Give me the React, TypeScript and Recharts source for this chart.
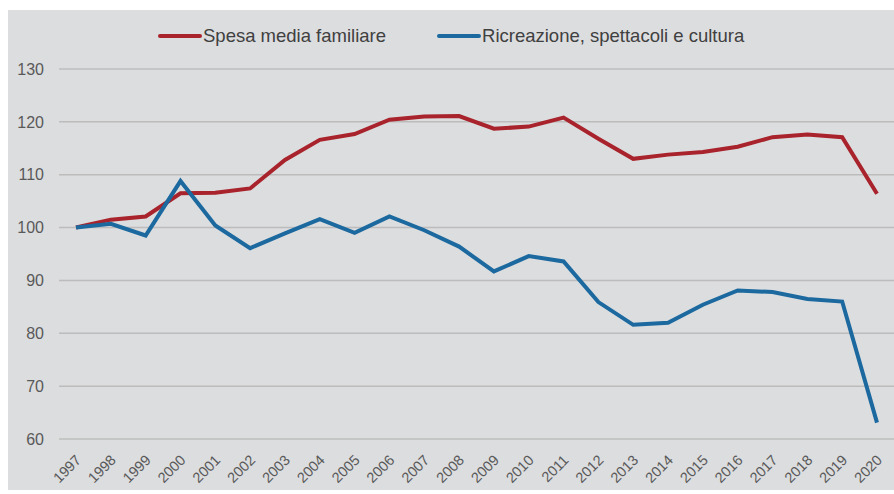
import React from "react";
import { LineChart, Line, XAxis, YAxis, CartesianGrid, Legend } from "recharts";

const years = [
  "1997", "1998", "1999", "2000", "2001", "2002", "2003", "2004", "2005", "2006", "2007", "2008",
  "2009", "2010", "2011", "2012", "2013", "2014", "2015", "2016", "2017", "2018", "2019", "2020",
];

// indice 1997 = 100
const spesaMedia = [
  100, 101.5, 102.1, 106.5, 106.6, 107.4, 112.8, 116.6, 117.7, 120.4, 121.0, 121.1,
  118.7, 119.1, 120.8, 116.8, 113.0, 113.8, 114.3, 115.3, 117.1, 117.6, 117.1, 106.4,
];

const ricreazione = [
  100, 100.7, 98.5, 108.8, 100.4, 96.1, 98.9, 101.6, 99.0, 102.1, 99.5, 96.4,
  91.7, 94.6, 93.6, 85.9, 81.6, 82.0, 85.4, 88.1, 87.8, 86.5, 86.0, 63.1,
];

const yTicks = [60, 70, 80, 90, 100, 110, 120, 130];

const SERIES = [
  { key: "spesa", label: "Spesa media familiare", color: "#a8232b" },
  { key: "ricreazione", label: "Ricreazione, spettacoli e cultura", color: "#1c69a0" },
];

const FONT = "'Liberation Sans', Arial, sans-serif";

const chartData = years.map((year, i) => ({
  year,
  spesa: spesaMedia[i],
  ricreazione: ricreazione[i],
}));

const YearTick = (props: any) => {
  const { x, y, payload } = props;
  const tx = x + 6;
  const ty = y + 14;
  return (
    <text
      x={tx}
      y={ty}
      transform={`rotate(-45 ${tx} ${ty})`}
      textAnchor="end"
      fill="#595959"
      fontSize={14.5}
      fontFamily={FONT}
    >
      {payload.value}
    </text>
  );
};

const LegendContent = () => (
  <div style={{ display: "flex", paddingLeft: 158, fontFamily: FONT }}>
    {SERIES.map((s, i) => (
      <div key={s.key} style={{ display: "flex", alignItems: "center", marginRight: i === 0 ? 51 : 0 }}>
        <span style={{ width: 44, height: 4, background: s.color, borderRadius: 2, display: "inline-block" }} />
        <span style={{ fontSize: 18.5, color: "#404040", marginLeft: 1 }}>{s.label}</span>
      </div>
    ))}
  </div>
);

export default function App() {
  return (
    <div style={{ position: "absolute", left: 0, top: 0, width: 894, height: 494, background: "#fff" }}>
      <div style={{ position: "absolute", left: 8, top: 10, width: 886, height: 480, background: "#dcdddf" }} />
      <div style={{ position: "absolute", left: 0, top: 0 }}>
        <LineChart
          width={894}
          height={494}
          data={chartData}
          margin={{ top: 47, right: 0, left: 0, bottom: 0 }}
        >
          <CartesianGrid vertical={false} stroke="#bcbcbc" strokeWidth={1.5} />
          <XAxis
            dataKey="year"
            axisLine={false}
            tickLine={false}
            height={55}
            interval={0}
            padding={{ left: 17, right: 17 }}
            tick={<YearTick />}
          />
          <YAxis
            domain={[60, 130]}
            ticks={yTicks}
            width={59}
            axisLine={false}
            tickLine={false}
            tickMargin={9}
            tick={{ fill: "#595959", fontSize: 16, fontFamily: FONT }}
          />
          <Legend
            verticalAlign="top"
            content={<LegendContent />}
            wrapperStyle={{ position: "absolute", top: 25, left: 0, width: 894 }}
          />
          {SERIES.map((s) => (
            <Line
              key={s.key}
              dataKey={s.key}
              name={s.label}
              type="linear"
              stroke={s.color}
              strokeWidth={4}
              dot={false}
              activeDot={false}
              isAnimationActive={false}
            />
          ))}
        </LineChart>
      </div>
    </div>
  );
}
